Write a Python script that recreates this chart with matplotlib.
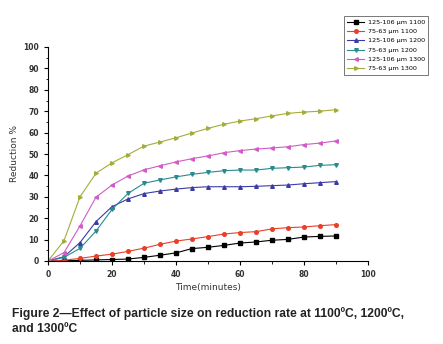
import matplotlib.pyplot as plt
from matplotlib.ticker import MultipleLocator

# time axis, minutes
t = [0, 5, 10, 15, 20, 25, 30, 35, 40, 45, 50, 55, 60, 65, 70, 75, 80, 85, 90]

# reduction %
s106_1100 = [0, 0.1, 0.3, 0.5, 0.7, 0.9, 1.7, 2.7, 3.8, 5.8, 6.4, 7.3, 8.4, 8.9, 9.7, 10.1, 11.2, 11.5, 11.7]
s63_1100 = [0, 0.4, 1.2, 2.3, 3.2, 4.5, 6.0, 7.8, 9.3, 10.3, 11.4, 12.6, 13.3, 13.7, 15.0, 15.6, 15.9, 16.5, 17.0]
s106_1200 = [0, 2.0, 8.6, 18.4, 25.4, 29.0, 31.5, 32.7, 33.6, 34.3, 34.7, 34.7, 34.7, 34.9, 35.2, 35.5, 36.1, 36.6, 37.1]
s63_1200 = [0, 1.7, 5.9, 14.0, 24.1, 31.6, 36.3, 37.9, 39.3, 40.5, 41.4, 42.2, 42.5, 42.5, 43.3, 43.6, 43.9, 44.7, 45.0]
s106_1300 = [0, 3.9, 16.4, 29.8, 35.5, 39.7, 42.6, 44.5, 46.3, 47.8, 49.1, 50.6, 51.6, 52.3, 52.8, 53.4, 54.4, 55.1, 56.1]
s63_1300 = [0, 9.5, 30.0, 41.0, 45.9, 49.7, 53.7, 55.6, 57.6, 59.8, 62.0, 63.9, 65.4, 66.5, 67.8, 69.0, 69.6, 70.0, 70.7]

labels = ['125-106 µm 1100', '75-63 µm 1100', '125-106 µm 1200',
          '75-63 µm 1200', '125-106 µm 1300', '75-63 µm 1300']
series = [s106_1100, s63_1100, s106_1200, s63_1200, s106_1300, s63_1300]
colors = ['#000000', '#e8402a', '#3b3ba8', '#2a8a8c', '#d05cc8', '#a4ad3c']
markers = ['s', 'o', '^', 'v', '<', '>']

fig = plt.figure(figsize=(4.43, 3.44), dpi=100)
ax = fig.add_axes([48/443, 1 - 261/344, 320/443, 214/344])

for ys, lab, c, m in zip(series, labels, colors, markers):
    ax.plot(t, ys, color=c, marker=m, markersize=2.6, linewidth=0.8, label=lab)

ax.set_xlim(0, 100)
ax.set_ylim(0, 100)
ax.xaxis.set_major_locator(MultipleLocator(20))
ax.xaxis.set_minor_locator(MultipleLocator(10))
ax.yaxis.set_major_locator(MultipleLocator(10))
ax.yaxis.set_minor_locator(MultipleLocator(5))
ax.spines['top'].set_visible(False)
ax.spines['right'].set_visible(False)
ax.tick_params(which='major', length=3, width=0.8, labelsize=5.5, labelcolor='#333333')
ax.tick_params(which='minor', length=1.8, width=0.6)
for lb in ax.get_xticklabels() + ax.get_yticklabels():
    lb.set_fontweight('bold')

ax.set_xlabel('Time(minutes)', fontsize=6.5, color='#333333', labelpad=3)
ax.set_ylabel('Reduction %', fontsize=6.5, color='#333333', labelpad=3)

leg = fig.legend(loc='upper left', bbox_to_anchor=(341/443, 1 - 13/344), fontsize=4.6,
                 frameon=True, fancybox=False, edgecolor='#555555', handlelength=2.6,
                 borderpad=0.5, labelspacing=0.6, handletextpad=0.6)
leg.get_frame().set_linewidth(0.7)

fig.text(12/443, 1 - 321/344,
         'Figure 2\u2014Effect of particle size on reduction rate at 1100ºC, 1200ºC,\nand 1300ºC',
         fontsize=8.7, fontweight='bold', family='Liberation Sans', color='#222222',
         va='center', ha='left', linespacing=1.25)

fig.savefig('out.png', dpi=100)
